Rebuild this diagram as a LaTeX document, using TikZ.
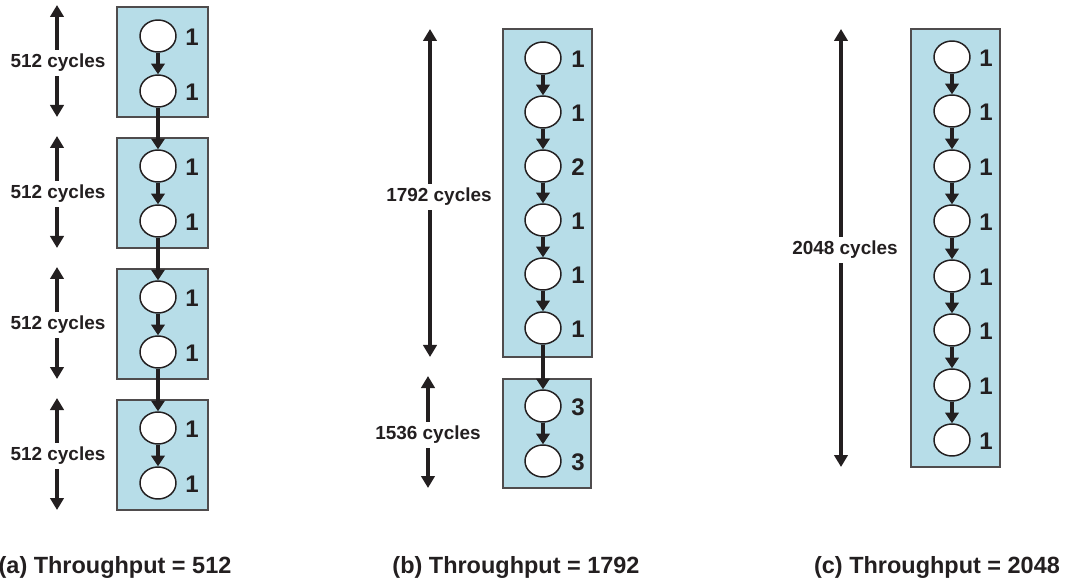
\documentclass[tikz,border=0pt]{standalone}
\usepackage{fontspec}
\setmainfont{Liberation Sans}
\usetikzlibrary{arrows.meta,shapes.geometric}
\definecolor{boxblue}{RGB}{183,221,232}
\definecolor{ink}{RGB}{35,31,32}
\begin{document}
\begin{tikzpicture}[x=0.75pt,y=-0.75pt,
 stage/.style={draw=ink!80, line width=1.2pt, fill=boxblue},
 task/.style={ellipse, draw=ink, line width=1.1pt, fill=white, minimum width=27pt, minimum height=24pt, inner sep=0pt},
 num/.style={font=\bfseries\fontsize{18}{19}\selectfont, text=ink, inner sep=0pt},
 cyc/.style={font=\bfseries\fontsize{14.2}{15}\selectfont, text=ink, inner sep=3pt},
 captxt/.style={font=\bfseries\fontsize{17.6}{18}\selectfont, text=ink, inner sep=0pt},
 flow/.style={draw=ink, line width=2.4pt, -{Triangle[width=10pt,length=8pt]}},
 span/.style={draw=ink, line width=2.4pt, -{Triangle[width=10pt,length=9pt]}}]
\useasboundingbox (0,0) rectangle (1065,581);

% ---------- (a) ----------
\foreach \t in {7,138,269,400} \path[stage] (117,\t) rectangle (208,\t+110);
\foreach \n/\y in {1/36,2/91,3/166,4/221,5/297,6/352,7/428,8/483} {
  \node[task] (a\n) at (158,\y) {};
  \node[num] (an\n) at (192,\y+1) {1};
}
\foreach \i/\j in {1/2,2/3,3/4,4/5,5/6,6/7,7/8} \draw[flow] (a\i) -- (a\j);
\foreach \k/\t in {1/7,2/138,3/269,4/400} {
  \node[cyc] (ca\k) at (58,\t+56) {512 cycles};
  \coordinate (cat\k) at (57,\t-2);
  \coordinate (cab\k) at (57,\t+110);
  \draw[span] (ca\k.north -| cat\k) -- (cat\k);
  \draw[span] (ca\k.south -| cab\k) -- (cab\k);
}
\node[captxt] (capa) at (115,567) {(a) Throughput = 512};

% ---------- (b) ----------
\path[stage] (503,29) rectangle (592,357);
\path[stage] (503,379) rectangle (591,488);
\foreach \n/\y/\v in {1/58/1,2/112/1,3/166/2,4/220/1,5/274/1,6/328/1,7/406/3,8/461/3} {
  \node[task] (b\n) at (543,\y) {};
  \node[num] (bn\n) at (578,\y+1) {\v};
}
\foreach \i/\j in {1/2,2/3,3/4,4/5,5/6,6/7,7/8} \draw[flow] (b\i) -- (b\j);
\node[cyc] (cb1) at (439,197) {1792 cycles};
\coordinate (cbt1) at (430,29);
\coordinate (cbb1) at (430,357);
\draw[span] (cb1.north -| cbt1) -- (cbt1);
\draw[span] (cb1.south -| cbb1) -- (cbb1);
\node[cyc] (cb2) at (428,435) {1536 cycles};
\coordinate (cbt2) at (428,376);
\coordinate (cbb2) at (428,488);
\draw[span] (cb2.north -| cbt2) -- (cbt2);
\draw[span] (cb2.south -| cbb2) -- (cbb2);
\node[captxt] (capb) at (516,567) {(b) Throughput = 1792};

% ---------- (c) ----------
\path[stage] (911,29) rectangle (1000,467);
\foreach \n/\y in {1/57,2/111,3/166,4/221,5/276,6/330,7/385,8/440} {
  \node[task] (c\n) at (952,\y) {};
  \node[num] (cn\n) at (986,\y+1) {1};
}
\foreach \i/\j in {1/2,2/3,3/4,4/5,5/6,6/7,7/8} \draw[flow] (c\i) -- (c\j);
\node[cyc] (cc1) at (845,250) {2048 cycles};
\coordinate (cct1) at (841,29);
\coordinate (ccb1) at (841,467);
\draw[span] (cc1.north -| cct1) -- (cct1);
\draw[span] (cc1.south -| ccb1) -- (ccb1);
\node[captxt] (capc) at (937,567) {(c) Throughput = 2048};
\end{tikzpicture}
\end{document}
